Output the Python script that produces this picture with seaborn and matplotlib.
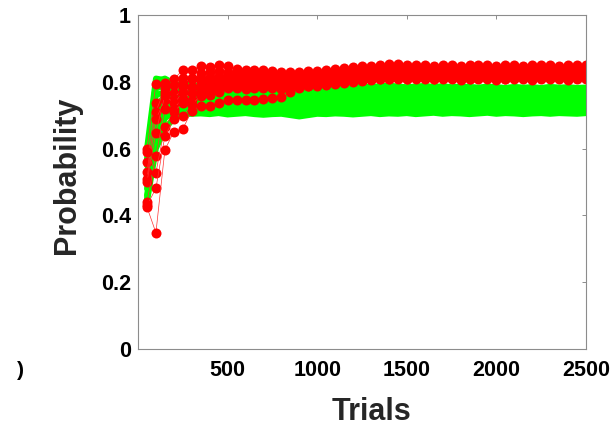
import numpy as np
import pandas as pd
import matplotlib
matplotlib.use("Agg")
import matplotlib.pyplot as plt
import seaborn as sns

# ---------------- data ----------------
trials = list(range(50, 2501, 50))

green_0 = [0.600, 0.810, 0.805, 0.800, 0.795, 0.790, 0.788, 0.786, 0.788, 0.785,
           0.787, 0.789, 0.786, 0.784, 0.787, 0.789, 0.786, 0.788, 0.790, 0.787,
           0.785, 0.788, 0.786, 0.789, 0.787, 0.785, 0.787, 0.789, 0.786, 0.784,
           0.786, 0.788, 0.785, 0.787, 0.784, 0.786, 0.785, 0.783, 0.786, 0.784,
           0.782, 0.785, 0.783, 0.784, 0.782, 0.785, 0.783, 0.784, 0.782, 0.783]
green_1 = [0.570, 0.800, 0.810, 0.795, 0.785, 0.780, 0.779, 0.776, 0.778, 0.775,
           0.777, 0.779, 0.776, 0.774, 0.776, 0.779, 0.777, 0.772, 0.770, 0.773,
           0.776, 0.778, 0.775, 0.777, 0.779, 0.776, 0.774, 0.777, 0.779, 0.776,
           0.774, 0.776, 0.778, 0.775, 0.777, 0.774, 0.776, 0.778, 0.775, 0.777,
           0.774, 0.776, 0.775, 0.777, 0.774, 0.776, 0.775, 0.777, 0.774, 0.776]
green_2 = [0.550, 0.780, 0.790, 0.780, 0.775, 0.770, 0.768, 0.766, 0.768, 0.765,
           0.767, 0.769, 0.766, 0.764, 0.766, 0.768, 0.765, 0.763, 0.765, 0.768,
           0.766, 0.769, 0.767, 0.765, 0.767, 0.769, 0.766, 0.764, 0.766, 0.768,
           0.765, 0.767, 0.769, 0.766, 0.768, 0.765, 0.767, 0.766, 0.768, 0.765,
           0.767, 0.766, 0.768, 0.765, 0.767, 0.766, 0.768, 0.766, 0.767, 0.766]
green_3 = [0.520, 0.760, 0.770, 0.770, 0.765, 0.760, 0.757, 0.755, 0.757, 0.754,
           0.756, 0.758, 0.755, 0.753, 0.755, 0.757, 0.754, 0.752, 0.755, 0.757,
           0.755, 0.758, 0.756, 0.754, 0.756, 0.758, 0.755, 0.757, 0.755, 0.757,
           0.754, 0.756, 0.758, 0.755, 0.757, 0.756, 0.754, 0.756, 0.758, 0.755,
           0.757, 0.756, 0.754, 0.756, 0.757, 0.755, 0.757, 0.756, 0.755, 0.757]
green_4 = [0.500, 0.720, 0.760, 0.760, 0.750, 0.748, 0.746, 0.744, 0.746, 0.743,
           0.745, 0.747, 0.744, 0.742, 0.744, 0.746, 0.743, 0.741, 0.744, 0.746,
           0.744, 0.747, 0.745, 0.743, 0.745, 0.747, 0.744, 0.746, 0.744, 0.746,
           0.743, 0.745, 0.747, 0.744, 0.746, 0.745, 0.743, 0.745, 0.747, 0.744,
           0.746, 0.745, 0.743, 0.745, 0.746, 0.744, 0.746, 0.745, 0.744, 0.746]
green_5 = [0.480, 0.690, 0.740, 0.745, 0.738, 0.738, 0.736, 0.734, 0.736, 0.733,
           0.735, 0.737, 0.734, 0.732, 0.734, 0.736, 0.733, 0.730, 0.732, 0.735,
           0.734, 0.736, 0.734, 0.732, 0.734, 0.736, 0.733, 0.735, 0.733, 0.735,
           0.732, 0.734, 0.736, 0.733, 0.735, 0.734, 0.732, 0.734, 0.736, 0.733,
           0.735, 0.734, 0.732, 0.734, 0.735, 0.733, 0.735, 0.734, 0.733, 0.735]
green_6 = [0.460, 0.650, 0.720, 0.730, 0.725, 0.726, 0.725, 0.723, 0.725, 0.722,
           0.724, 0.726, 0.723, 0.721, 0.723, 0.725, 0.722, 0.718, 0.721, 0.724,
           0.723, 0.725, 0.723, 0.721, 0.723, 0.725, 0.722, 0.724, 0.722, 0.724,
           0.721, 0.723, 0.725, 0.722, 0.724, 0.723, 0.721, 0.723, 0.725, 0.722,
           0.724, 0.723, 0.721, 0.723, 0.724, 0.722, 0.724, 0.723, 0.722, 0.724]
green_7 = [0.450, 0.620, 0.690, 0.715, 0.712, 0.715, 0.714, 0.712, 0.714, 0.711,
           0.713, 0.715, 0.712, 0.710, 0.712, 0.713, 0.708, 0.704, 0.709, 0.713,
           0.712, 0.714, 0.712, 0.710, 0.712, 0.714, 0.711, 0.713, 0.711, 0.713,
           0.710, 0.712, 0.714, 0.711, 0.713, 0.712, 0.710, 0.712, 0.714, 0.711,
           0.713, 0.712, 0.710, 0.712, 0.713, 0.711, 0.713, 0.712, 0.711, 0.713]
green_8 = [0.440, 0.600, 0.660, 0.690, 0.703, 0.704, 0.705, 0.703, 0.706, 0.702,
           0.704, 0.706, 0.703, 0.701, 0.703, 0.704, 0.700, 0.696, 0.700, 0.704,
           0.703, 0.705, 0.704, 0.702, 0.704, 0.706, 0.703, 0.705, 0.704, 0.706,
           0.703, 0.705, 0.707, 0.704, 0.706, 0.705, 0.703, 0.705, 0.707, 0.704,
           0.706, 0.705, 0.703, 0.705, 0.706, 0.704, 0.706, 0.705, 0.704, 0.706]

red_0 = [0.600, 0.793, 0.795, 0.808, 0.835, 0.835, 0.848, 0.845, 0.850, 0.846,
         0.838, 0.835, 0.834, 0.835, 0.833, 0.830, 0.829, 0.830, 0.831, 0.833,
         0.835, 0.837, 0.840, 0.843, 0.846, 0.848, 0.850, 0.852, 0.852, 0.851,
         0.849, 0.850, 0.848, 0.849, 0.850, 0.848, 0.849, 0.850, 0.849, 0.848,
         0.849, 0.850, 0.848, 0.849, 0.850, 0.849, 0.848, 0.849, 0.850, 0.849]
red_1 = [0.560, 0.736, 0.770, 0.790, 0.812, 0.807, 0.825, 0.830, 0.832, 0.828,
         0.825, 0.826, 0.824, 0.826, 0.823, 0.822, 0.821, 0.823, 0.824, 0.826,
         0.828, 0.830, 0.832, 0.835, 0.838, 0.840, 0.842, 0.844, 0.843, 0.844,
         0.842, 0.843, 0.841, 0.843, 0.844, 0.842, 0.843, 0.841, 0.843, 0.842,
         0.844, 0.842, 0.843, 0.842, 0.841, 0.843, 0.842, 0.844, 0.842, 0.843]
red_2 = [0.530, 0.711, 0.780, 0.766, 0.795, 0.812, 0.810, 0.815, 0.818, 0.820,
         0.817, 0.816, 0.818, 0.816, 0.815, 0.814, 0.813, 0.815, 0.817, 0.818,
         0.820, 0.822, 0.825, 0.828, 0.830, 0.833, 0.835, 0.837, 0.836, 0.835,
         0.837, 0.836, 0.835, 0.836, 0.837, 0.835, 0.836, 0.837, 0.836, 0.835,
         0.836, 0.837, 0.835, 0.836, 0.837, 0.836, 0.835, 0.836, 0.837, 0.836]
red_3 = [0.510, 0.688, 0.746, 0.750, 0.780, 0.785, 0.800, 0.802, 0.806, 0.810,
         0.808, 0.806, 0.808, 0.807, 0.806, 0.805, 0.806, 0.807, 0.809, 0.811,
         0.813, 0.815, 0.818, 0.820, 0.823, 0.826, 0.828, 0.830, 0.831, 0.830,
         0.829, 0.830, 0.831, 0.829, 0.830, 0.831, 0.830, 0.829, 0.831, 0.830,
         0.829, 0.830, 0.831, 0.830, 0.829, 0.830, 0.831, 0.830, 0.829, 0.830]
red_4 = [0.500, 0.648, 0.760, 0.736, 0.766, 0.785, 0.785, 0.790, 0.795, 0.800,
         0.798, 0.797, 0.799, 0.798, 0.797, 0.796, 0.797, 0.799, 0.801, 0.803,
         0.806, 0.808, 0.811, 0.814, 0.817, 0.820, 0.822, 0.824, 0.825, 0.824,
         0.825, 0.824, 0.825, 0.826, 0.824, 0.825, 0.824, 0.826, 0.825, 0.824,
         0.825, 0.826, 0.824, 0.825, 0.826, 0.824, 0.825, 0.824, 0.826, 0.825]
red_5 = [0.440, 0.578, 0.720, 0.720, 0.750, 0.766, 0.775, 0.780, 0.785, 0.792,
         0.790, 0.789, 0.790, 0.791, 0.790, 0.789, 0.790, 0.792, 0.795, 0.797,
         0.800, 0.803, 0.806, 0.809, 0.812, 0.815, 0.817, 0.819, 0.820, 0.819,
         0.820, 0.821, 0.819, 0.820, 0.821, 0.820, 0.819, 0.820, 0.821, 0.820,
         0.819, 0.821, 0.820, 0.819, 0.820, 0.821, 0.820, 0.819, 0.820, 0.821]
red_6 = [0.590, 0.528, 0.666, 0.711, 0.736, 0.746, 0.756, 0.760, 0.770, 0.785,
         0.784, 0.783, 0.785, 0.786, 0.785, 0.784, 0.786, 0.788, 0.790, 0.792,
         0.795, 0.798, 0.801, 0.804, 0.807, 0.810, 0.812, 0.814, 0.815, 0.814,
         0.815, 0.816, 0.814, 0.815, 0.816, 0.815, 0.814, 0.815, 0.816, 0.815,
         0.814, 0.816, 0.815, 0.814, 0.815, 0.816, 0.815, 0.814, 0.815, 0.816]
red_7 = [0.430, 0.481, 0.638, 0.688, 0.698, 0.730, 0.760, 0.765, 0.775, 0.780,
         0.780, 0.779, 0.780, 0.781, 0.780, 0.779, 0.781, 0.783, 0.786, 0.788,
         0.791, 0.794, 0.797, 0.800, 0.803, 0.805, 0.807, 0.809, 0.810, 0.809,
         0.810, 0.811, 0.809, 0.810, 0.811, 0.810, 0.809, 0.810, 0.811, 0.810,
         0.809, 0.811, 0.810, 0.809, 0.810, 0.811, 0.810, 0.809, 0.810, 0.811]
red_8 = [0.425, 0.348, 0.596, 0.651, 0.659, 0.713, 0.728, 0.728, 0.738, 0.745,
         0.745, 0.745, 0.746, 0.749, 0.752, 0.755, 0.770, 0.780, 0.788, 0.795,
         0.798, 0.800, 0.802, 0.804, 0.806, 0.807, 0.808, 0.808, 0.807, 0.808,
         0.807, 0.808, 0.807, 0.808, 0.807, 0.806, 0.807, 0.808, 0.807, 0.806,
         0.807, 0.808, 0.807, 0.806, 0.807, 0.808, 0.807, 0.806, 0.807, 0.808]

green_series = [green_0, green_1, green_2, green_3, green_4, green_5, green_6, green_7, green_8]
red_series = [red_0, red_1, red_2, red_3, red_4, red_5, red_6, red_7, red_8]

x_ticks = [500, 1000, 1500, 2000, 2500]
x_tick_labels = ["500", "1000", "1500", "2000", "2500"]
y_ticks = [0, 0.2, 0.4, 0.6, 0.8, 1.0]
y_tick_labels = ["0", "0.2", "0.4", "0.6", "0.8", "1"]
x_label = "Trials"
y_label = "Probability"


def to_long(series_list, prefix):
    rows = []
    for k, vals in enumerate(series_list):
        assert len(vals) == len(trials)
        for t, v in zip(trials, vals):
            rows.append({"Trials": t, "Probability": v, "run": f"{prefix}{k}"})
    return pd.DataFrame(rows)


df_green = to_long(green_series, "g")
df_red = to_long(red_series, "r")

# ---------------- figure ----------------
sns.set_style("white")
plt.rcParams["font.family"] = ["Liberation Sans", "DejaVu Sans"]

fig = plt.figure(figsize=(6.16, 4.32), dpi=100)
ax = fig.add_axes([138 / 616, 1 - 349 / 432, 448 / 616, 334 / 432])

sns.lineplot(data=df_green, x="Trials", y="Probability", units="run",
             estimator=None, sort=False, color="#00ff00", linewidth=4.2,
             ax=ax, legend=False)
sns.lineplot(data=df_red, x="Trials", y="Probability", units="run",
             estimator=None, sort=False, color="#ff3030", linewidth=0.5,
             marker="o", markersize=7.2, markeredgewidth=0,
             markerfacecolor="#ff0000", ax=ax, legend=False)

ax.set_xlim(0, 2500)
ax.set_ylim(0, 1)
ax.set_xticks(x_ticks)
ax.set_xticklabels(x_tick_labels)
ax.set_yticks(y_ticks)
ax.set_yticklabels(y_tick_labels)

for s in ax.spines.values():
    s.set_visible(True)
    s.set_color("#8c8c8c")
    s.set_linewidth(0.8)

ax.tick_params(axis="both", which="both", direction="in", length=3,
               width=0.7, color="#8c8c8c", top=True, right=True,
               labelsize=15.5, labelcolor="black")
ax.tick_params(axis="x", pad=8)
ax.tick_params(axis="y", pad=5)
for lab in ax.get_xticklabels() + ax.get_yticklabels():
    lab.set_fontweight("bold")

ax.set_xlabel(x_label, fontsize=22, fontweight="bold", color="#262626")
ax.set_ylabel(y_label, fontsize=22, fontweight="bold", color="#262626")
ax.xaxis.set_label_coords(0.522, -0.145)
ax.yaxis.set_label_coords(-0.125, 0.521)

fig.text(20 / 616, 1 - 370 / 432, ")", fontsize=15, fontweight="bold",
         color="black", ha="center", va="center")

fig.savefig("out.png", dpi=100)
